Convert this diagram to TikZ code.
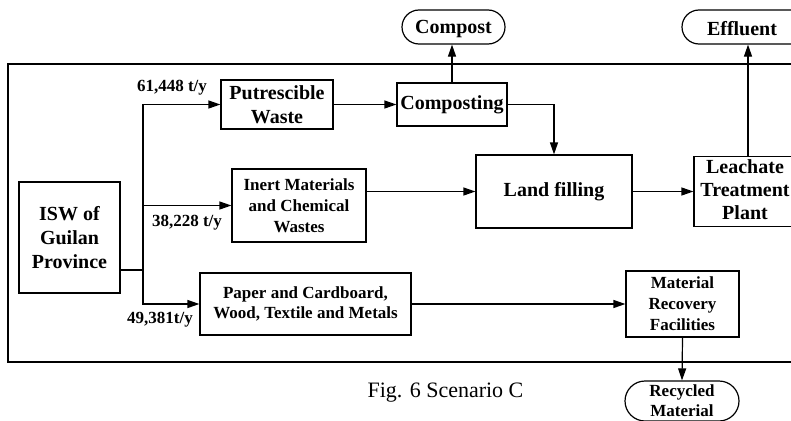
\documentclass[tikz,border=0pt]{standalone}
\usepackage{fontspec}
\setmainfont{Liberation Serif}
\usetikzlibrary{arrows.meta}
\begin{document}
\begin{tikzpicture}[x=1pt,y=-1pt,line width=1.2pt,
  bigbox/.style={draw,rectangle,inner sep=0pt,align=center,font=\fontsize{20}{24}\selectfont\bfseries},
  smallbox/.style={draw,rectangle,inner sep=0pt,align=center,font=\fontsize{17}{21}\selectfont\bfseries},
  term/.style={draw,rectangle,inner sep=0pt,align=center,minimum height=34pt,rounded corners=17pt,text depth=0pt,font=\fontsize{20}{24}\selectfont\bfseries},
  flow/.style={font=\fontsize{17}{21}\selectfont\bfseries,inner sep=0pt},
  arr/.style={-{Triangle[length=12pt,width=8pt]}}]
\useasboundingbox (0,0) rectangle (791,420);
% outer frame
\draw (8,64) rectangle (810,362);
% boxes
\node[bigbox,minimum width=101pt,minimum height=111pt] (ISW) at (69.5,237.5) {ISW of\\Guilan\\Province};
\node[bigbox,minimum width=112pt,minimum height=49pt] (Put) at (277,104.5) {Putrescible\\Waste};
\node[smallbox,minimum width=134pt,minimum height=73pt] (Inert) at (299,205.5) {Inert Materials\\and Chemical\\Wastes};
\node[smallbox,minimum width=211pt,minimum height=62pt,font=\fontsize{17}{20}\selectfont\bfseries] (Paper) at (305.5,304) {Paper and Cardboard,\\Wood, Textile and Metals};
\node[bigbox,minimum width=110pt,minimum height=43pt] (Comp) at (452,104.5) {Composting};
\node[term,minimum width=103pt] (Compost) at (453.5,27) {Compost};
\node[bigbox,minimum width=156pt,minimum height=73pt] (Land) at (554,191.5) {Land filling};
\node[bigbox,minimum width=112pt,minimum height=67pt,font=\fontsize{20}{23.5}\selectfont\bfseries] (Leach) at (750,191.5) {\begin{tabular}{@{}c@{\hspace{10pt}}}Leachate\\[-0.5pt]Treatment\\[-0.5pt]Plant\end{tabular}};
\node[term,minimum width=134pt] (Eff) at (749,27) {\begin{tabular}{@{}c@{\hspace{14pt}}}Effluent\end{tabular}};
\node[smallbox,minimum width=113pt,minimum height=66pt] (MRF) at (682.5,304) {Material\\Recovery\\Facilities};
\node[term,minimum width=114pt,minimum height=40pt,rounded corners=20pt,font=\fontsize{17}{20}\selectfont\bfseries] (Rec) at (682,401) {Recycled\\Material};
% labels
\node[flow] (l1) at (172,88) {61,448 t/y};
\node[flow] (l2) at (187,223) {38,228 t/y};
\node[flow] (l3) at (160,320) {49,381t/y};
\node[font=\fontsize{22}{26}\selectfont,inner sep=0pt] (cap) at (445.5,393) {Fig. 6 Scenario C};
% connectors
\coordinate (j) at (143,270);
\draw (ISW.east |- j) -- (j);
\draw[arr] (j) |- (Put.west);
\draw[arr] (j) |- (Paper.west);
\draw[arr] (j |- Inert.west) -- (Inert.west);
\draw[arr] (Put.east) -- (Comp.west);
\draw[arr] (Comp.north) -- (Comp.north |- Compost.south);
\draw[arr] (Comp.east) -| (Land.north);
\draw[arr] (Inert.east |- Land.west) -- (Land.west);
\draw[arr] (Land.east) -- (Leach.west);
\draw[arr] (748,0 |- Leach.north) -- (748,0 |- Eff.south);
\draw[arr] (Paper.east) -- (MRF.west);
\draw[arr] (MRF.south) -- (Rec.north);
\end{tikzpicture}
\end{document}
